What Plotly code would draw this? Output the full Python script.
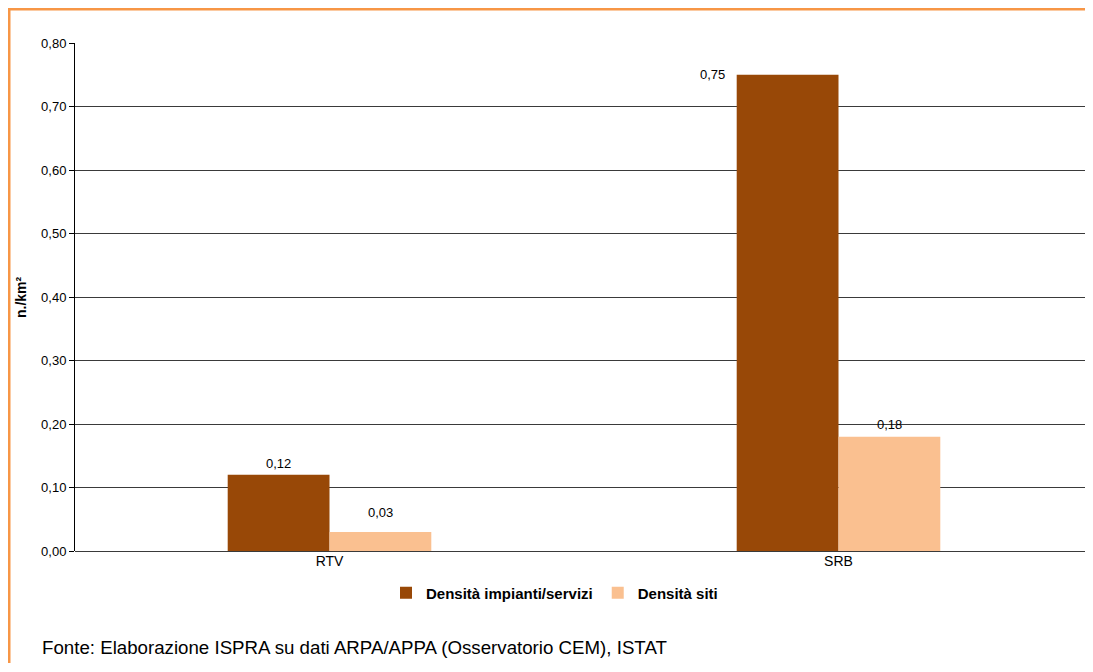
import plotly.graph_objects as go

categories = ["RTV", "SRB"]
series_names = ["Densità impianti/servizi", "Densità siti"]
impianti = [0.12, 0.75]
siti = [0.03, 0.18]
colors = ["#984807", "#FAC090"]
y_ticks = [0.0, 0.1, 0.2, 0.3, 0.4, 0.5, 0.6, 0.7, 0.8]

# page body has an 8px margin; the figure starts at (8, 8)
OFF = 8
PLOT_LEFT, PLOT_TOP, PLOT_BOTTOM = 75, 43, 551
W, H = 1093 - OFF, 672 - 2 * OFF - 1
L, R, T = PLOT_LEFT - OFF, 0, PLOT_TOP - OFF
B = H + OFF - PLOT_BOTTOM
pw = W - L - R
ph = H - T - B

fig = go.Figure()
for name, vals, c in zip(series_names, [impianti, siti], colors):
    fig.add_trace(go.Bar(x=categories, y=vals, name=name,
                         marker=dict(color=c, line=dict(width=0))))

bargap = 0.6
cat_w = pw / len(categories)
bar_w = cat_w * (1 - bargap) / 2
offsets = [-bar_w / 2, bar_w / 2]

def fmt(v):
    return f"{v:.2f}".replace(".", ",")

placements = {
    (0, 0): dict(xs=0, ys=11),
    (0, 1): dict(xs=0, ys=19),
    (1, 0): dict(xs=-bar_w / 2 - 24, ys=0),
    (1, 1): dict(xs=0, ys=12),
}
for si, vals in enumerate([impianti, siti]):
    for ci, v in enumerate(vals):
        p = placements[(ci, si)]
        fig.add_annotation(x=categories[ci], y=v, xref="x", yref="y",
                           text=fmt(v), showarrow=False,
                           xshift=offsets[si] + p["xs"], yshift=p["ys"],
                           font=dict(family="Liberation Sans, Arial", size=13, color="#000"))

def px_x(px):
    return (px - OFF - L) / pw

def px_y(py):
    return (H + OFF - B - py) / ph

fig.add_annotation(x=px_x(21), y=px_y(297), xref="paper", yref="paper", text="<b>n./km²</b>",
                   textangle=-90, showarrow=False, xanchor="center", yanchor="middle",
                   font=dict(family="Liberation Sans, Arial", size=14, color="#000"))
fig.add_annotation(x=px_x(40), y=px_y(647), xref="paper", yref="paper",
                   text="Fonte: Elaborazione ISPRA su dati ARPA/APPA (Osservatorio CEM), ISTAT",
                   xanchor="left", yanchor="middle", showarrow=False,
                   font=dict(family="Liberation Sans, Arial", size=18.7, color="#000"))

orange = "#F79646"
fig.add_shape(type="line", xref="paper", yref="paper", x0=px_x(OFF), x1=px_x(1100),
              y0=px_y(OFF + 1), y1=px_y(OFF + 1), line=dict(color=orange, width=3))
fig.add_shape(type="line", xref="paper", yref="paper", x0=px_x(OFF + 1), x1=px_x(OFF + 1),
              y0=px_y(OFF), y1=px_y(680), line=dict(color=orange, width=3))

fig.update_layout(
    width=W, height=H,
    margin=dict(l=L, r=R, t=T, b=B),
    paper_bgcolor="white", plot_bgcolor="white",
    barmode="group", bargap=bargap, bargroupgap=0,
    separators=",.",
    font=dict(family="Liberation Sans, Arial", size=13, color="#000"),
    showlegend=True,
    legend=dict(orientation="h", x=px_x(386), y=px_y(593), xanchor="left", yanchor="middle",
                font=dict(family="Liberation Sans, Arial", size=15, color="#000", weight="bold"),
                itemwidth=30, traceorder="normal", bgcolor="rgba(0,0,0,0)"),
    xaxis=dict(showgrid=False, showline=False, ticks="", tickfont=dict(size=14),
               fixedrange=True),
    yaxis=dict(range=[0, 0.8], tickvals=y_ticks, tickformat=".2f",
               tickfont=dict(size=13),
               showgrid=True, gridcolor="#3a3a3a", gridwidth=1,
               showline=True, linecolor="#000", linewidth=1,
               ticks="outside", ticklen=5, tickcolor="#000",
               zeroline=True, zerolinecolor="#3a3a3a", zerolinewidth=1),
)

fig.write_html("out.html")
